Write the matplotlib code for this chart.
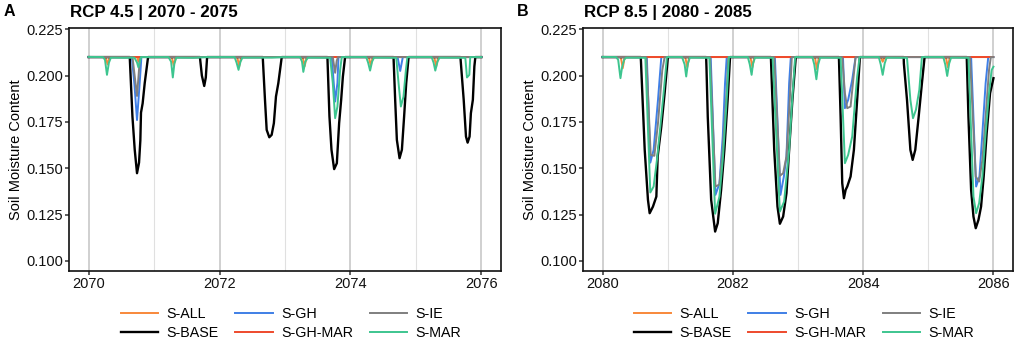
import matplotlib
matplotlib.use("Agg")
import matplotlib.pyplot as plt
from matplotlib.ticker import FormatStrFormatter, MultipleLocator

plt.rcParams['font.family'] = ['Liberation Sans', 'DejaVu Sans']

# series order and colours (legend order)
series = ["S-ALL", "S-BASE", "S-GH", "S-GH-MAR", "S-IE", "S-MAR"]
colors = ["#F8883A", "#000000", "#3F7FE6", "#EE4A2C", "#7F7F7F", "#3DC58F"]

# ---- Panel A : RCP 4.5 | 2070 - 2075 (year, soil moisture) ----
a_all = [(2070.0, 0.21), (2070.26, 0.21), (2070.29, 0.206), (2070.32, 0.21),
         (2070.74, 0.21), (2070.76, 0.2075), (2070.78, 0.21),
         (2071.27, 0.21), (2071.30, 0.2055), (2071.33, 0.21),
         (2072.27, 0.21), (2072.30, 0.205), (2072.33, 0.21),
         (2073.27, 0.21), (2073.30, 0.205), (2073.33, 0.21),
         (2074.28, 0.21), (2074.31, 0.2055), (2074.34, 0.21),
         (2075.28, 0.21), (2075.31, 0.205), (2075.34, 0.21), (2076.0, 0.21)]

a_base = [(2070.0, 0.21), (2070.628, 0.21), (2070.669, 0.178), (2070.704, 0.160),
          (2070.739, 0.1473), (2070.77, 0.153), (2070.79, 0.165), (2070.80, 0.180),
          (2070.825, 0.185), (2070.857, 0.196), (2070.908, 0.21),
          (2071.70, 0.21), (2071.73, 0.200), (2071.766, 0.1944), (2071.79, 0.199), (2071.81, 0.21),
          (2072.66, 0.21), (2072.694, 0.187), (2072.72, 0.1707), (2072.76, 0.1667),
          (2072.796, 0.168), (2072.83, 0.1743), (2072.862, 0.1887), (2072.898, 0.1959), (2072.95, 0.21),
          (2073.648, 0.21), (2073.679, 0.178), (2073.71, 0.160), (2073.751, 0.1495),
          (2073.792, 0.1527), (2073.827, 0.1743), (2073.858, 0.1869), (2073.884, 0.1994), (2073.918, 0.21),
          (2074.658, 0.21), (2074.683, 0.187), (2074.709, 0.1653), (2074.75, 0.1554),
          (2074.786, 0.160), (2074.82, 0.178), (2074.852, 0.196), (2074.888, 0.21),
          (2075.68, 0.21), (2075.73, 0.187), (2075.765, 0.1671), (2075.79, 0.1638),
          (2075.82, 0.1671), (2075.84, 0.1797), (2075.87, 0.1869), (2075.893, 0.2049),
          (2075.908, 0.21), (2076.0, 0.21)]

a_gh = [(2070.0, 0.21), (2070.66, 0.21), (2070.70, 0.195), (2070.739, 0.176), (2070.78, 0.196),
        (2070.806, 0.21), (2073.715, 0.21), (2073.766, 0.186), (2073.801, 0.196), (2073.817, 0.21),
        (2074.72, 0.21), (2074.76, 0.2025), (2074.80, 0.21), (2076.0, 0.21)]

a_ghmar = [(2070.0, 0.21), (2076.0, 0.21)]

a_ie = [(2070.0, 0.21), (2070.67, 0.21), (2070.739, 0.189), (2070.78, 0.208), (2070.80, 0.21),
        (2073.73, 0.21), (2073.766, 0.2015), (2073.79, 0.208), (2073.81, 0.21), (2076.0, 0.21)]

a_mar = [(2070.0, 0.2101), (2070.22, 0.2100), (2070.25, 0.2085), (2070.28, 0.2004), (2070.31, 0.207),
         (2070.34, 0.2097), (2070.55, 0.2096), (2070.70, 0.2097), (2070.74, 0.207), (2070.76, 0.2045),
         (2070.78, 0.207), (2070.80, 0.2100),
         (2071.22, 0.2100), (2071.26, 0.2075), (2071.286, 0.199), (2071.31, 0.2065), (2071.34, 0.2097),
         (2071.60, 0.2096), (2071.80, 0.2100),
         (2072.23, 0.2100), (2072.26, 0.207), (2072.29, 0.2031), (2072.32, 0.2075), (2072.35, 0.2097),
         (2072.80, 0.2097), (2073.0, 0.2100),
         (2073.23, 0.2100), (2073.26, 0.2075), (2073.28, 0.202), (2073.31, 0.2075), (2073.35, 0.2097),
         (2073.69, 0.2096), (2073.73, 0.196), (2073.766, 0.177), (2073.801, 0.1833), (2073.842, 0.203),
         (2073.867, 0.2100),
         (2074.24, 0.2100), (2074.27, 0.207), (2074.30, 0.2027), (2074.33, 0.2075), (2074.36, 0.2097),
         (2074.70, 0.2096), (2074.735, 0.1959), (2074.77, 0.1833), (2074.81, 0.1886), (2074.847, 0.203),
         (2074.87, 0.2100),
         (2075.24, 0.2100), (2075.27, 0.207), (2075.296, 0.2027), (2075.33, 0.2075), (2075.36, 0.2097),
         (2075.755, 0.2096), (2075.78, 0.199), (2075.816, 0.2004), (2075.83, 0.2100), (2076.0, 0.2100)]

# ---- Panel B : RCP 8.5 | 2080 - 2085 ----
b_all = [(2080.0, 0.21), (2080.28, 0.21), (2080.31, 0.204), (2080.34, 0.21),
         (2081.27, 0.21), (2081.30, 0.2045), (2081.33, 0.21),
         (2082.27, 0.21), (2082.30, 0.2045), (2082.33, 0.21),
         (2083.26, 0.21), (2083.29, 0.2035), (2083.32, 0.21),
         (2084.27, 0.21), (2084.30, 0.2075), (2084.33, 0.21),
         (2085.27, 0.21), (2085.30, 0.2045), (2085.33, 0.21), (2086.0, 0.21)]

b_base = [(2080.0, 0.21), (2080.586, 0.21), (2080.59, 0.2075), (2080.647, 0.160), (2080.697, 0.1329),
          (2080.723, 0.1257), (2080.774, 0.1293), (2080.826, 0.1347), (2080.846, 0.1563),
          (2080.902, 0.1725), (2080.953, 0.1905), (2081.003, 0.21),
          (2081.59, 0.21), (2081.595, 0.2045), (2081.615, 0.1778), (2081.667, 0.1329), (2081.728, 0.1158),
          (2081.768, 0.1203), (2081.82, 0.1383), (2081.87, 0.1599), (2081.92, 0.1869), (2081.957, 0.21),
          (2082.584, 0.21), (2082.635, 0.1599), (2082.685, 0.1293), (2082.722, 0.1200), (2082.772, 0.1239),
          (2082.823, 0.1365), (2082.864, 0.1599), (2082.914, 0.1869), (2082.966, 0.21),
          (2083.628, 0.21), (2083.654, 0.1778), (2083.679, 0.1419), (2083.705, 0.1338), (2083.731, 0.1383),
          (2083.756, 0.1401), (2083.807, 0.1455), (2083.858, 0.1599), (2083.908, 0.1869), (2083.95, 0.21),
          (2084.622, 0.21), (2084.625, 0.2065), (2084.673, 0.1869), (2084.725, 0.1599), (2084.76, 0.1545),
          (2084.80, 0.1599), (2084.852, 0.1778), (2084.902, 0.1959), (2084.943, 0.21),
          (2085.59, 0.21), (2085.616, 0.1778), (2085.657, 0.1383), (2085.693, 0.1239), (2085.728, 0.1176),
          (2085.77, 0.1221), (2085.81, 0.1293), (2085.85, 0.1455), (2085.896, 0.1689), (2085.948, 0.1905),
          (2086.0, 0.1986)]

b_gh = [(2080.0, 0.21), (2080.68, 0.21), (2080.733, 0.153), (2080.784, 0.1599), (2080.851, 0.1869),
        (2080.902, 0.21),
        (2081.66, 0.21), (2081.733, 0.1356), (2081.794, 0.1417), (2081.845, 0.1671), (2081.88, 0.1959),
        (2081.906, 0.21),
        (2082.645, 0.21), (2082.731, 0.1356), (2082.783, 0.1455), (2082.823, 0.1563), (2082.864, 0.1959),
        (2082.89, 0.21),
        (2083.69, 0.21), (2083.72, 0.1824), (2083.77, 0.1869), (2083.832, 0.1977), (2083.884, 0.21),
        (2085.657, 0.21), (2085.734, 0.1401), (2085.785, 0.1455), (2085.83, 0.1689), (2085.88, 0.1959),
        (2085.92, 0.21), (2086.0, 0.21)]

b_ghmar = [(2080.0, 0.21), (2086.0, 0.21)]

b_ie = [(2080.0, 0.21), (2080.672, 0.21), (2080.739, 0.1572), (2080.795, 0.1567), (2080.851, 0.1743),
        (2080.917, 0.2030), (2080.953, 0.21),
        (2081.65, 0.21), (2081.733, 0.1401), (2081.794, 0.1412), (2081.845, 0.1599), (2081.906, 0.1923),
        (2081.93, 0.21),
        (2082.635, 0.21), (2082.722, 0.1459), (2082.772, 0.1473), (2082.823, 0.1563), (2082.874, 0.1869),
        (2082.905, 0.21),
        (2083.679, 0.21), (2083.72, 0.1905), (2083.755, 0.1824), (2083.807, 0.1833), (2083.843, 0.1959),
        (2083.884, 0.21),
        (2085.64, 0.21), (2085.728, 0.1455), (2085.78, 0.1428), (2085.83, 0.1545), (2085.88, 0.1778),
        (2085.932, 0.2030), (2085.96, 0.21), (2086.0, 0.21)]

b_mar = [(2080.0, 0.2101), (2080.21, 0.2100), (2080.24, 0.2085), (2080.275, 0.1986), (2080.30, 0.2045),
         (2080.33, 0.2085), (2080.36, 0.2097), (2080.657, 0.2096), (2080.733, 0.1369), (2080.784, 0.1401),
         (2080.835, 0.1545), (2080.887, 0.1725), (2080.937, 0.1905), (2080.988, 0.2100),
         (2081.22, 0.2100), (2081.26, 0.206), (2081.284, 0.1995), (2081.31, 0.2065), (2081.34, 0.2097),
         (2081.64, 0.2096), (2081.728, 0.1254), (2081.794, 0.1347), (2081.845, 0.1545), (2081.896, 0.1815),
         (2081.94, 0.2100),
         (2082.23, 0.2100), (2082.26, 0.206), (2082.288, 0.2004), (2082.31, 0.2065), (2082.34, 0.2097),
         (2082.61, 0.2096), (2082.722, 0.1266), (2082.787, 0.132), (2082.864, 0.1599), (2082.914, 0.1886),
         (2082.956, 0.2100),
         (2083.22, 0.2100), (2083.25, 0.206), (2083.282, 0.198), (2083.31, 0.206), (2083.34, 0.2097),
         (2083.654, 0.2096), (2083.72, 0.1527), (2083.77, 0.1572), (2083.832, 0.1671), (2083.873, 0.1851),
         (2083.908, 0.1994), (2083.945, 0.2100),
         (2084.24, 0.2100), (2084.27, 0.206), (2084.30, 0.2004), (2084.33, 0.2065), (2084.36, 0.2097),
         (2084.673, 0.2096), (2084.725, 0.1869), (2084.765, 0.177), (2084.81, 0.1815), (2084.862, 0.1923),
         (2084.902, 0.2100),
         (2085.23, 0.2100), (2085.26, 0.206), (2085.29, 0.1998), (2085.32, 0.2065), (2085.35, 0.2097),
         (2085.616, 0.2096), (2085.693, 0.1347), (2085.734, 0.1257), (2085.78, 0.1311), (2085.83, 0.1455),
         (2085.88, 0.1689), (2085.932, 0.1905), (2085.972, 0.2030), (2086.0, 0.2048)]

panels = [
    ("A", "RCP 4.5 | 2070 - 2075", 2070, [a_all, a_base, a_gh, a_ghmar, a_ie, a_mar]),
    ("B", "RCP 8.5 | 2080 - 2085", 2080, [b_all, b_base, b_gh, b_ghmar, b_ie, b_mar]),
]

fig = plt.figure(figsize=(10.21, 3.43), dpi=100)
W, H = 1021, 343
boxes = [(69, 501), (583, 1013)]
ax_top, ax_bot = 28, 271

for (tag, title, y0, data), (x_l, x_r) in zip(panels, boxes):
    ax = fig.add_axes([x_l / W, 1 - ax_bot / H, (x_r - x_l) / W, (ax_bot - ax_top) / H])
    for name, col, pts in zip(series, colors, data):
        xs = [p[0] for p in pts]
        ys = [p[1] for p in pts]
        lw = 1.7 if name == "S-BASE" else 1.4
        ax.plot(xs, ys, color=col, lw=lw, label=name, solid_joinstyle="round")

    ax.set_xlim(y0 - 0.3, y0 + 6.3)
    ax.set_ylim(0.0945, 0.2257)
    ax.xaxis.set_major_locator(MultipleLocator(2))
    ax.xaxis.set_minor_locator(MultipleLocator(1))
    ax.yaxis.set_major_locator(MultipleLocator(0.025))
    ax.yaxis.set_major_formatter(FormatStrFormatter("%.3f"))
    ax.grid(which="major", axis="x", color="#C4C4C4", lw=1.1)
    ax.grid(which="minor", axis="x", color="#E0E0E0", lw=0.8)
    ax.set_axisbelow(True)
    ax.tick_params(which="major", length=3, width=1.1, color="#333333",
                   labelsize=10.5, labelcolor="#111111", pad=1.5)
    ax.tick_params(which="minor", length=0)
    for sp in ax.spines.values():
        sp.set_linewidth(1.2)
        sp.set_color("#111111")

    ax.set_ylabel("Soil Moisture Content", fontsize=10.5)
    ax.yaxis.set_label_coords(-46 / (x_r - x_l), 0.5)

    fig.text(x_l / W + 0.001, 1 - 12.5 / H, title, fontsize=12.2, fontweight="bold",
             ha="left", va="center")
    fig.text((x_l - 60) / W, 1 - 11.5 / H, tag, fontsize=11.5, fontweight="bold",
             ha="center", va="center")

    handles, labels = ax.get_legend_handles_labels()
    fig.legend(handles, labels, loc="center", ncol=3,
               bbox_to_anchor=((x_l + x_r) / 2 / W + 0.006, 1 - 323.5 / H),
               frameon=False, fontsize=10.3, handlelength=2.6, handletextpad=0.6,
               columnspacing=1.15, labelspacing=0.3)

fig.savefig("out.png", dpi=100)
